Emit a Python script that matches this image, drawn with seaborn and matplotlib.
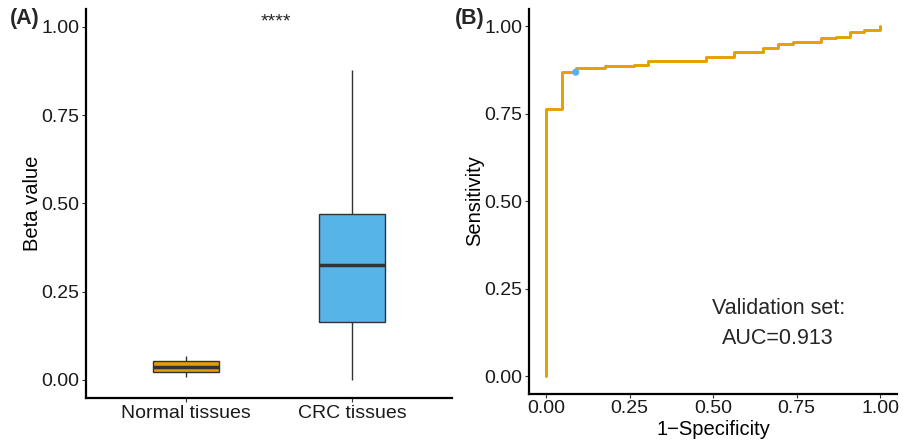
import numpy as np
import pandas as pd
import matplotlib
matplotlib.use("Agg")
import matplotlib.pyplot as plt
import seaborn as sns

# ---- Panel A data: five-number summaries per group ----
groups = ["Normal tissues", "CRC tissues"]
normal_vals = [0.009, 0.022, 0.038, 0.054, 0.069]
crc_vals = [0.0, 0.164, 0.326, 0.470, 0.878]
box_colors = ["#E69F00", "#56B4E9"]

# ---- Panel B data: ROC curve ----
fpr = [0.0, 0.0, 0.047, 0.047, 0.089, 0.089, 0.134, 0.134, 0.177, 0.177,
       0.263, 0.263, 0.305, 0.305, 0.478, 0.478, 0.563, 0.563, 0.649, 0.649,
       0.694, 0.694, 0.739, 0.739, 0.823, 0.823, 0.867, 0.867, 0.910, 0.910,
       0.953, 0.953, 1.0, 1.0]
tpr = [0.0, 0.763, 0.763, 0.868, 0.868, 0.879, 0.879, 0.881, 0.881, 0.887,
       0.887, 0.890, 0.890, 0.901, 0.901, 0.912, 0.912, 0.925, 0.925, 0.938,
       0.938, 0.950, 0.950, 0.953, 0.953, 0.965, 0.965, 0.969, 0.969, 0.983,
       0.983, 0.988, 0.988, 1.0]
best_point = (0.089, 0.868)
auc_text = "Validation set:\nAUC=0.913"

sns.set_style("white")
plt.rcParams['font.family'] = ['Liberation Sans', 'DejaVu Sans']

fig = plt.figure(figsize=(9.09, 4.41), dpi=100)
axA = fig.add_axes([0.0951, 0.0984, 0.4017, 0.8806])
axB = fig.add_axes([0.5823, 0.1077, 0.4042, 0.873])

df = pd.DataFrame({
    "group": [groups[0]] * len(normal_vals) + [groups[1]] * len(crc_vals),
    "value": normal_vals + crc_vals,
})
sns.boxplot(data=df, x="group", y="value", hue="group", palette=box_colors,
            order=groups, width=0.4, linecolor="#333333", linewidth=1.0,
            whis=1.5, fliersize=0, legend=False, ax=axA, saturation=1,
            showcaps=False,
            medianprops=dict(linewidth=2.5, color="#333333"))
axA.set_xlim(-0.6, 1.6)
axA.set_ylim(-0.05, 1.05)
axA.set_yticks([0, 0.25, 0.5, 0.75, 1.0])
axA.set_yticklabels(["0.00", "0.25", "0.50", "0.75", "1.00"])
axA.set_xlabel("")
axA.set_ylabel("Beta value", fontsize=14.5, color="black", labelpad=0)
axA.text(0.54, 1.015, "****", ha="center", va="center", fontsize=14)

sns.lineplot(x=fpr, y=tpr, sort=False, color="#E69F00", linewidth=2.1,
             ax=axB, estimator=None)
axB.scatter([best_point[0]], [best_point[1]], color="#56B4E9", s=26, zorder=5,
            edgecolor="none")
axB.set_xlim(-0.05, 1.05)
axB.set_ylim(-0.05, 1.05)
axB.set_xticks([0, 0.25, 0.5, 0.75, 1.0])
axB.set_xticklabels(["0.00", "0.25", "0.50", "0.75", "1.00"])
axB.set_yticks([0, 0.25, 0.5, 0.75, 1.0])
axB.set_yticklabels(["0.00", "0.25", "0.50", "0.75", "1.00"])
axB.set_xlabel("1\u2212Specificity", fontsize=14.5, color="black", labelpad=2)
axB.set_ylabel("Sensitivity", fontsize=14.5, color="black", labelpad=0)
axB.text(0.695, 0.15, auc_text, ha="center", va="center", fontsize=15.5,
         linespacing=1.55)

for ax in (axA, axB):
    for s in ("top", "right"):
        ax.spines[s].set_visible(False)
    for s in ("left", "bottom"):
        ax.spines[s].set_color("black")
        ax.spines[s].set_linewidth(1.6)
    ax.tick_params(axis="both", which="both", direction="out", length=3,
                   width=0.8, color="#333333", labelsize=14, labelcolor="#1a1a1a",
                   left=True, bottom=True, pad=2)

fig.text(0.011, 0.958, "(A)", fontsize=15.5, fontweight="bold", ha="left", va="center")
fig.text(0.500, 0.958, "(B)", fontsize=15.5, fontweight="bold", ha="left", va="center")

fig.savefig("out.png", dpi=100)
